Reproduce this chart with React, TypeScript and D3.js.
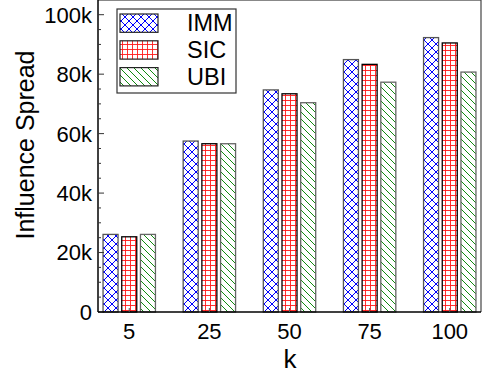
import React, { useEffect, useRef } from "react";
import * as d3 from "d3";

const categories = ["5", "25", "50", "75", "100"];
const seriesNames = ["IMM", "SIC", "UBI"];
const immValues = [26100, 57500, 74700, 84900, 92300];
const sicValues = [25300, 56600, 73400, 83300, 90500];
const ubiValues = [26100, 56600, 70400, 77300, 80700];
const yTicks = [0, 20000, 40000, 60000, 80000, 100000];

const App = () => {
  const ref = useRef<SVGSVGElement>(null);

  useEffect(() => {
    if (!ref.current) return;
    const svg = d3.select(ref.current);
    svg.selectAll("*").remove();

    const W = 491;
    const H = 374;
    const margin = { top: 0, right: 10, bottom: 62, left: 98 };
    const x0 = margin.left;
    const x1 = W - margin.right;
    const y0 = H - margin.bottom;
    const font = "'Liberation Sans', Arial, sans-serif";

    // ===== patterns =====
    const defs = svg.append("defs");
    const cross = defs
      .append("pattern")
      .attr("id", "pat-imm")
      .attr("patternUnits", "userSpaceOnUse")
      .attr("width", 8)
      .attr("height", 8);
    cross.append("rect").attr("width", 8).attr("height", 8).attr("fill", "#fff");
    cross.append("path").attr("d", "M0,0L8,8M8,0L0,8").attr("stroke", "#0000ff").attr("stroke-width", 1);

    const grid = defs
      .append("pattern")
      .attr("id", "pat-sic")
      .attr("patternUnits", "userSpaceOnUse")
      .attr("width", 5)
      .attr("height", 5);
    grid.append("rect").attr("width", 5).attr("height", 5).attr("fill", "#fff");
    grid.append("path").attr("d", "M0.5,0V5M0,0.5H5").attr("stroke", "#ff1a1a").attr("stroke-width", 0.9);

    const diag = defs
      .append("pattern")
      .attr("id", "pat-ubi")
      .attr("patternUnits", "userSpaceOnUse")
      .attr("width", 7)
      .attr("height", 7);
    diag.append("rect").attr("width", 7).attr("height", 7).attr("fill", "#fff");
    diag.append("path").attr("d", "M-1,-1L8,8M-1,6L1,8M6,-1L8,1").attr("stroke", "#108a10").attr("stroke-width", 1);

    const fills = ["url(#pat-imm)", "url(#pat-sic)", "url(#pat-ubi)"];
    const strokes = ["#555", "#000", "#666"];

    // ===== scales =====
    const x = d3.scalePoint<string>().domain(categories).range([x0, x1]).padding(0.39);
    const y = d3.scaleLinear().domain([0, 100000]).range([y0, y0 - 297.3]);
    const yTop = y.invert(0);
    const barW = 15;
    const step = 18.7;
    const sub = d3.scaleBand<string>().domain(seriesNames).range([-step * 1.5, step * 1.5]);

    const data = [immValues, sicValues, ubiValues];

    // ===== bars =====
    seriesNames.forEach((name, si) => {
      svg
        .append("g")
        .selectAll("rect")
        .data(categories)
        .join("rect")
        .attr("x", (c) => (x(c) as number) + (sub(name) as number) + (step - barW) / 2)
        .attr("y", (c, i) => y(data[si][i]))
        .attr("width", barW)
        .attr("height", (c, i) => y0 - y(data[si][i]))
        .attr("fill", fills[si])
        .attr("stroke", strokes[si])
        .attr("stroke-width", 1.3);
    });

    // ===== frame =====
    svg.append("line").attr("x1", x0).attr("x2", x1).attr("y1", 0.5).attr("y2", 0.5).attr("stroke", "#888").attr("stroke-width", 1.2);
    svg.append("line").attr("x1", x1).attr("x2", x1).attr("y1", 0).attr("y2", y0).attr("stroke", "#444").attr("stroke-width", 1.2);

    // ===== y axis =====
    const yAxis = svg.append("g").attr("transform", `translate(${x0},0)`);
    yAxis.append("line").attr("x1", 0).attr("x2", 0).attr("y1", 0).attr("y2", y0).attr("stroke", "#000").attr("stroke-width", 1.5);
    const minor = d3.range(5000, yTop, 5000).filter((v) => v % 20000 !== 0);
    yAxis
      .selectAll("line.minor")
      .data(minor)
      .join("line")
      .attr("class", "minor")
      .attr("x1", 0)
      .attr("x2", 3)
      .attr("y1", (d) => y(d))
      .attr("y2", (d) => y(d))
      .attr("stroke", "#333");
    yAxis
      .selectAll("line.major")
      .data(yTicks)
      .join("line")
      .attr("class", "major")
      .attr("x1", 0)
      .attr("x2", 6)
      .attr("y1", (d) => y(d))
      .attr("y2", (d) => y(d))
      .attr("stroke", "#333");
    yAxis
      .selectAll("text")
      .data(yTicks)
      .join("text")
      .attr("x", -6)
      .attr("y", (d) => y(d))
      .attr("dy", "0.36em")
      .attr("text-anchor", "end")
      .style("font-family", font)
      .style("font-size", "22px")
      .text((d) => (d === 0 ? "0" : `${d / 1000}k`));

    // ===== x axis =====
    const xAxis = svg.append("g").attr("transform", `translate(0,${y0})`);
    xAxis.append("line").attr("x1", x0).attr("x2", x1).attr("y1", 0).attr("y2", 0).attr("stroke", "#000").attr("stroke-width", 1.5);
    xAxis
      .selectAll("line.tick")
      .data(categories)
      .join("line")
      .attr("class", "tick")
      .attr("x1", (c) => x(c) as number)
      .attr("x2", (c) => x(c) as number)
      .attr("y1", 0)
      .attr("y2", -4)
      .attr("stroke", "#555");
    xAxis
      .selectAll("text")
      .data(categories)
      .join("text")
      .attr("x", (c) => x(c) as number)
      .attr("y", 27)
      .attr("text-anchor", "middle")
      .style("font-family", font)
      .style("font-size", "22px")
      .text((c) => c);

    // ===== axis titles =====
    svg
      .append("text")
      .attr("x", 290)
      .attr("y", 368)
      .attr("text-anchor", "middle")
      .style("font-family", font)
      .style("font-size", "26px")
      .text("k");
    svg
      .append("text")
      .attr("transform", `translate(34,145) rotate(-90)`)
      .attr("text-anchor", "middle")
      .style("font-family", font)
      .style("font-size", "25px")
      .text("Influence Spread");

    // ===== legend =====
    const lg = svg.append("g").attr("transform", "translate(117,9)");
    lg.append("rect").attr("width", 119).attr("height", 84).attr("fill", "#fff").attr("stroke", "#333").attr("stroke-width", 1.2);
    seriesNames.forEach((name, i) => {
      const yy = 5 + i * 26.8;
      lg.append("rect")
        .attr("x", 3)
        .attr("y", yy)
        .attr("width", 38)
        .attr("height", 18.3)
        .attr("fill", fills[i])
        .attr("stroke", "#222")
        .attr("stroke-width", 1.2);
      lg.append("text")
        .attr("x", 70)
        .attr("y", yy + 9)
        .attr("dy", "0.36em")
        .style("font-family", font)
        .style("font-size", "23.5px")
        .text(name);
    });
  }, []);

  return (
    <svg
      ref={ref}
      width={491}
      height={374}
      style={{ position: "absolute", left: 0, top: 0, background: "#fff" }}
    />
  );
};

export default App;
